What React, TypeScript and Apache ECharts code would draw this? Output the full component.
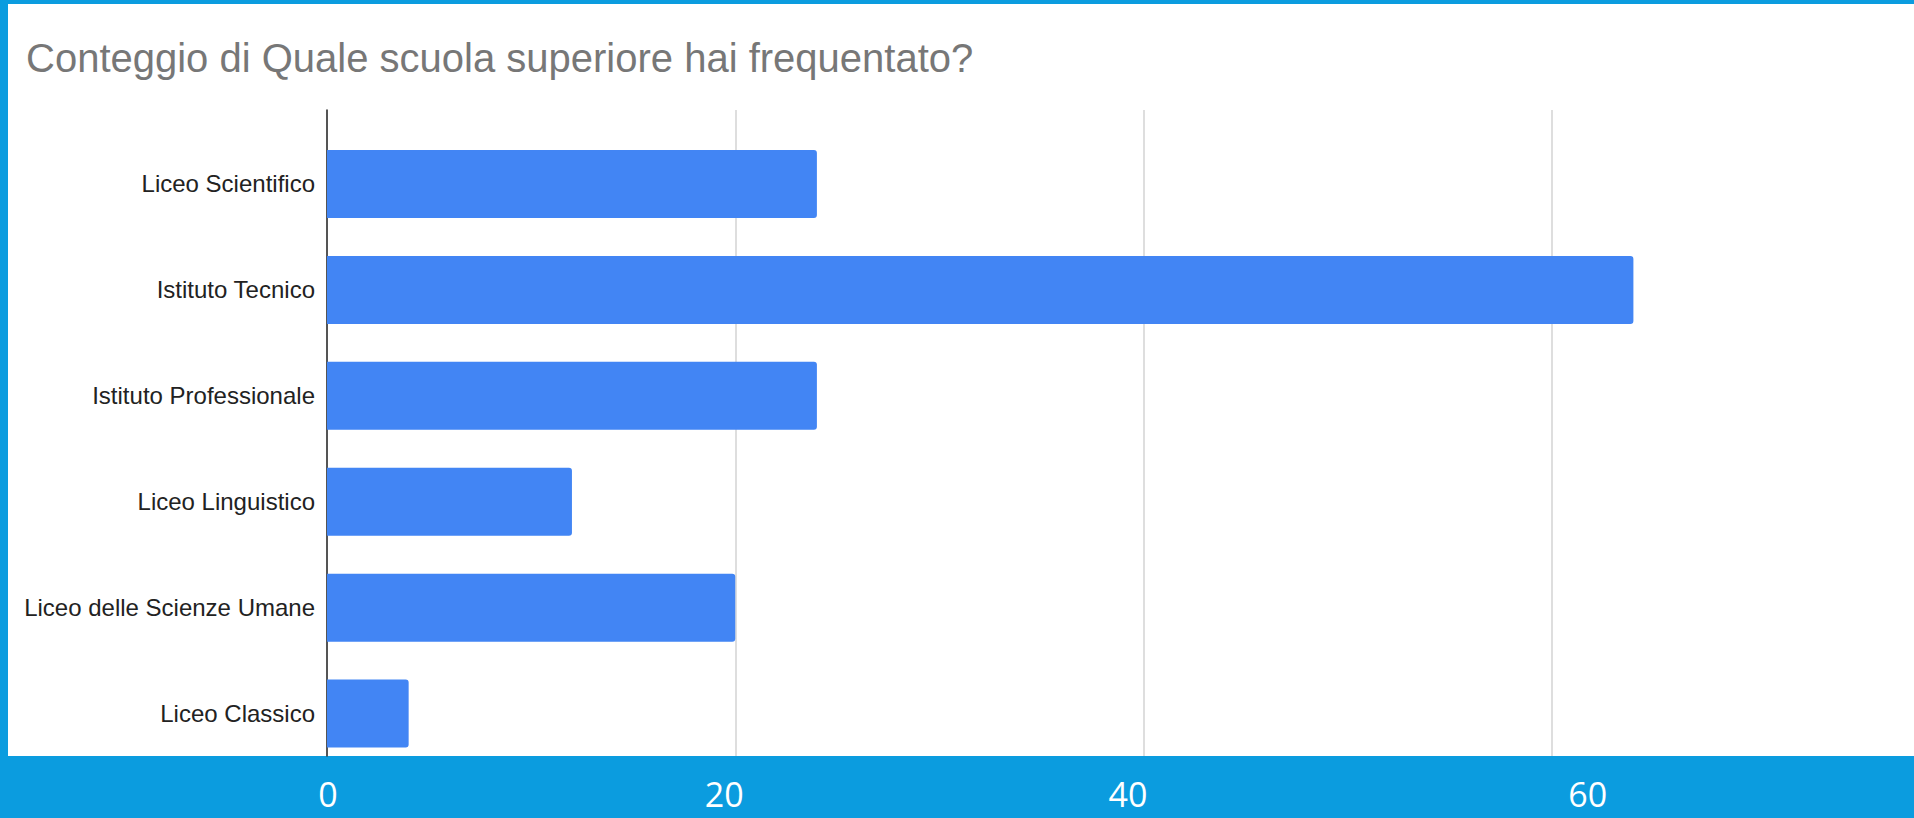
import React, { useEffect, useRef } from "react";
import * as echarts from "echarts";

const titleText = "Conteggio di Quale scuola superiore hai frequentato?";
const categories = [
  "Liceo Scientifico",
  "Istituto Tecnico",
  "Istituto Professionale",
  "Liceo Linguistico",
  "Liceo delle Scienze Umane",
  "Liceo Classico",
];
const counts = [24, 64, 24, 12, 20, 4];
const axisMin = 0;
const axisMax = 80;
const axisStep = 20;

const BLUE = "#0b9cdf";

export default function App() {
  const ref = useRef<HTMLDivElement>(null);

  useEffect(() => {
    if (!ref.current) return;
    const chart = echarts.init(ref.current, undefined, { renderer: "svg" });
    const tickFont = {
      fontFamily: "Open Sans",
      fontSize: 34,
      lineHeight: 34,
      color: "#ffffff",
    };
    chart.setOption({
      animation: false,
      backgroundColor: "transparent",
      title: {
        text: titleText,
        left: 26,
        top: 38,
        padding: 0,
        textStyle: {
          fontFamily: "Liberation Sans, Arial, sans-serif",
          fontSize: 40,
          fontWeight: "normal",
          color: "#777777",
        },
      },
      grid: [
        {
          left: 327,
          top: 131,
          width: 1633,
          height: 635.5,
          containLabel: false,
          outerBoundsMode: "none",
        },
        {
          left: 327,
          top: 110,
          width: 1633,
          height: 646,
          containLabel: false,
          outerBoundsMode: "none",
        },
      ],
      xAxis: [
        {
          gridIndex: 0,
          type: "value",
          min: axisMin,
          max: axisMax,
          interval: axisStep,
          show: false,
        },
        {
          gridIndex: 1,
          type: "value",
          min: axisMin,
          max: axisMax,
          interval: axisStep,
          axisLine: { show: false },
          axisTick: { show: false },
          splitLine: { show: true, lineStyle: { color: "#d3d3d3", width: 1.5 } },
          axisLabel: {
            margin: 21,
            showMaxLabel: false,
            ...tickFont,
            formatter: (v: number) => `{t${v}|${v}}`,
            rich: {
              t0: { ...tickFont, padding: [0, 0, 0, 2] },
              t20: { ...tickFont, padding: [0, 22, 0, 0] },
              t40: { ...tickFont, padding: [0, 31, 0, 0] },
              t60: { ...tickFont, padding: [0, 0, 0, 72] },
              t80: { ...tickFont },
            },
          },
        },
      ],
      yAxis: [
        {
          gridIndex: 0,
          type: "category",
          inverse: true,
          data: categories,
          axisLine: { show: false },
          axisTick: { show: false },
          splitLine: { show: false },
          axisLabel: {
            margin: 12,
            fontFamily: "Liberation Sans, Arial, sans-serif",
            fontSize: 24,
            color: "#222222",
          },
        },
        {
          gridIndex: 1,
          type: "value",
          min: 0,
          max: 1,
          axisLine: { show: true, lineStyle: { color: "#333333", width: 1.6 } },
          axisTick: { show: false },
          axisLabel: { show: false },
          splitLine: { show: false },
        },
      ],
      series: [
        {
          type: "bar",
          xAxisIndex: 0,
          yAxisIndex: 0,
          data: counts,
          barWidth: 68,
          itemStyle: { color: "#4285f4", borderRadius: [0, 3, 3, 0] },
          z: 3,
        },
      ],
    });
    return () => chart.dispose();
  }, []);

  return (
    <div
      style={{
        position: "fixed",
        left: 0,
        top: 0,
        width: 1914,
        height: 818,
        background: BLUE,
        overflow: "hidden",
      }}
    >
      <div
        style={{
          position: "absolute",
          left: 8,
          top: 4,
          width: 1906,
          height: 752,
          background: "#ffffff",
        }}
      />
      <div
        ref={ref}
        style={{ position: "absolute", left: 0, top: 0, width: 1914, height: 818 }}
      />
    </div>
  );
}
